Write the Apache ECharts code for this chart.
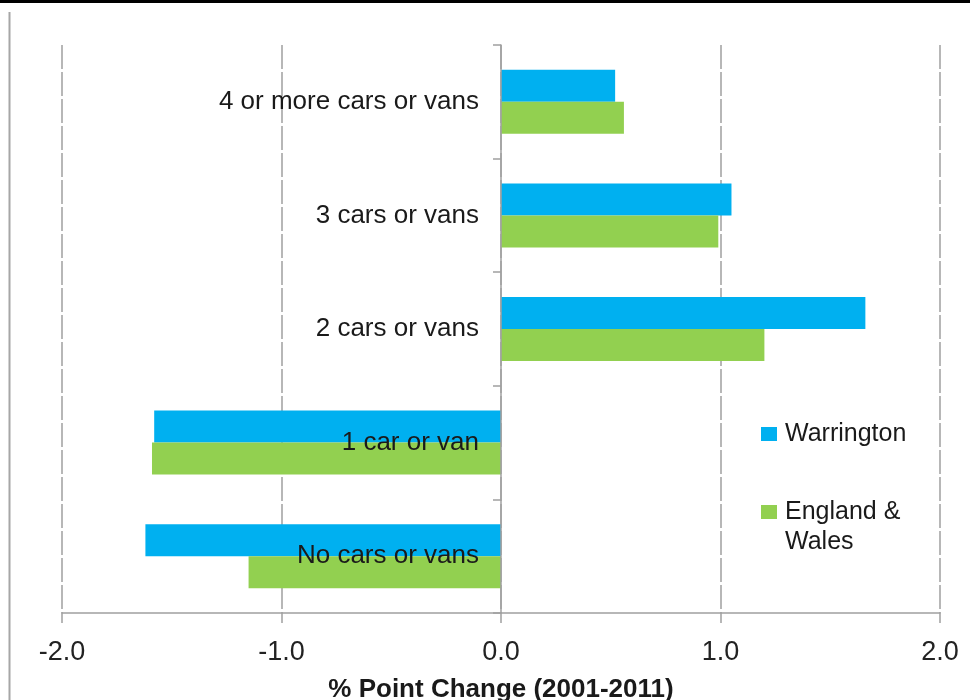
<!DOCTYPE html>
<html>
<head>
<meta charset="utf-8">
<script src="https://cdn.jsdelivr.net/npm/echarts@6/dist/echarts.min.js"></script>
<style>html,body{margin:0;padding:0;background:#fff}#c{width:970px;height:700px}</style>
</head>
<body>
<div id="c"></div>
<script>
var categories = ['4 or more cars or vans', '3 cars or vans', '2 cars or vans', '1 car or van', 'No cars or vans'];
var warrington = [0.52, 1.05, 1.66, -1.58, -1.62];
var englandWales = [0.56, 0.99, 1.20, -1.59, -1.15];
var seriesNames = ['Warrington', 'England & Wales'];
var xTicks = { min: -2, max: 2, interval: 1 };
var axisTitle = '% Point Change (2001-2011)';

var FONT = '"Liberation Sans", Arial, sans-serif';
var GRID_LEFT = 62, GRID_RIGHT = 30;
var chart = echarts.init(document.getElementById('c'), null, { renderer: 'canvas' });
// place the category axis at x = 0 of the value axis
var plotW = 970 - GRID_LEFT - GRID_RIGHT;
var zeroOffset = -plotW * (0 - xTicks.min) / (xTicks.max - xTicks.min);
chart.setOption({
  animation: false,
  backgroundColor: '#fff',
  graphic: [
    { type: 'rect', left: 0, top: 0, shape: { width: 970, height: 3 }, style: { fill: '#000' }, silent: true },
    { type: 'line', shape: { x1: 9.5, y1: 12, x2: 9.5, y2: 700 }, style: { stroke: '#a6a6a6', lineWidth: 2 }, silent: true }
  ],
  grid: { left: GRID_LEFT, right: GRID_RIGHT, top: 45, bottom: 87, containLabel: false, outerBoundsMode: 'none' },
  legend: {
    orient: 'vertical',
    left: 761,
    top: 419,
    padding: 0,
    itemWidth: 16,
    itemHeight: 14,
    itemGap: 18,
    data: [seriesNames[0], seriesNames[1]],
    formatter: function (n) { return n === 'England & Wales' ? '\nEngland &\nWales' : n; },
    textStyle: { fontFamily: FONT, fontSize: 25, color: '#1a1a1a', lineHeight: 30, padding: [0, 0, 0, 3] },
    icon: 'rect'
  },
  xAxis: {
    type: 'value',
    min: xTicks.min,
    max: xTicks.max,
    interval: xTicks.interval,
    axisLine: { show: true, lineStyle: { color: '#a0a0a0', width: 1.5 } },
    axisTick: { show: true, length: 10, lineStyle: { color: '#a0a0a0', width: 1.5 } },
    axisLabel: { fontFamily: FONT, fontSize: 27, color: '#222', margin: 26, formatter: function (v) { return v.toFixed(1); } },
    splitLine: { show: true, lineStyle: { color: '#a0a0a0', width: 1.5, type: [24, 3] } },
    name: axisTitle,
    nameLocation: 'middle',
    nameGap: 64,
    nameTextStyle: { fontFamily: FONT, fontSize: 26, fontWeight: 'bold', color: '#1a1a1a' }
  },
  yAxis: {
    type: 'category',
    inverse: true,
    data: categories,
    z: 5,
    offset: zeroOffset,
    axisLine: { show: true, onZero: false, lineStyle: { color: '#a0a0a0', width: 1.5 } },
    axisTick: { show: true, length: 8, lineStyle: { color: '#a0a0a0', width: 1.5 } },
    axisLabel: { fontFamily: FONT, fontSize: 26, color: '#1a1a1a', margin: 22 },
    splitLine: { show: false }
  },
  series: [
    { name: seriesNames[0], type: 'bar', data: warrington, barWidth: 32, barGap: '0%', itemStyle: { color: '#00B0F0' } },
    { name: seriesNames[1], type: 'bar', data: englandWales, barWidth: 32, barGap: '0%', itemStyle: { color: '#92D050' } }
  ]
});
</script>
</body>
</html>
